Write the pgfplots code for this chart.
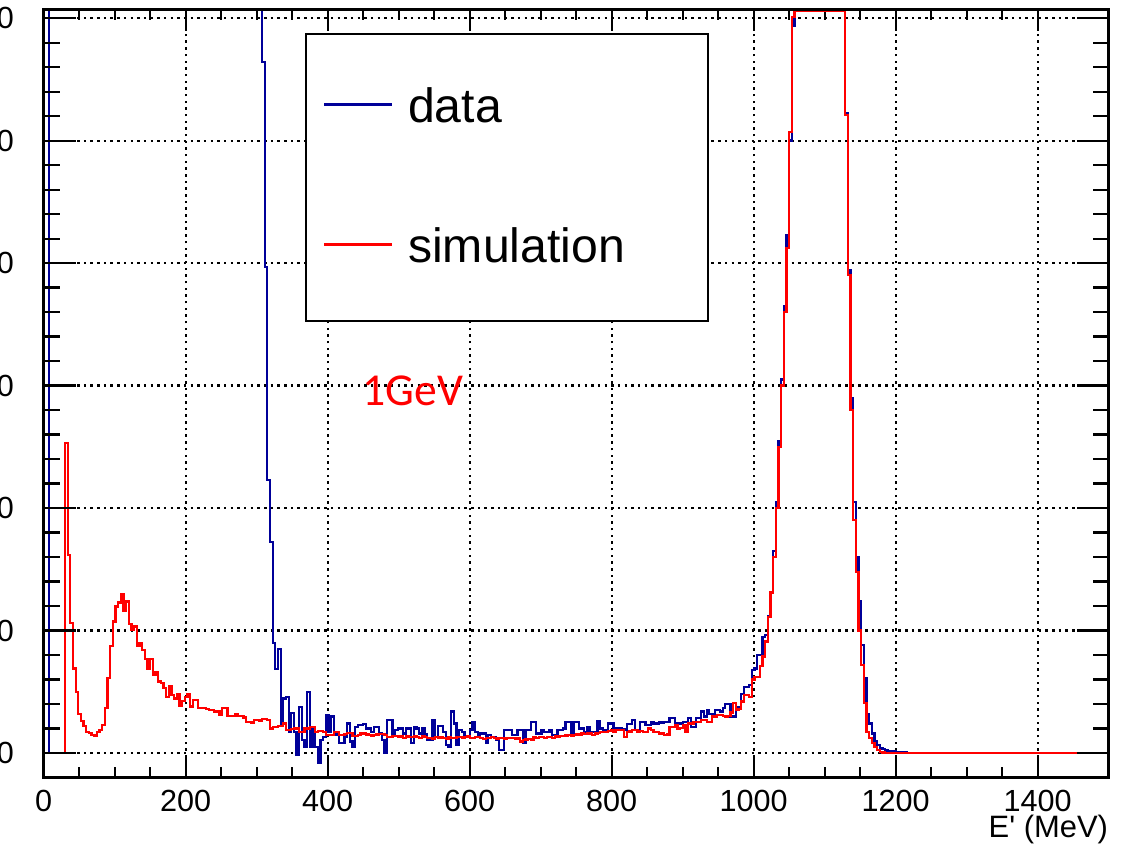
\documentclass[border=0pt]{standalone}
\usepackage{pgfplots}
\usepackage{pgfplotstable}
\pgfplotsset{compat=1.18}
\usepackage{fontspec}
\setmainfont{Liberation Sans}
\newfontfamily\arial{Liberation Sans}
\newfontfamily\carlito{Carlito}
\definecolor{dblue}{RGB}{0,0,153}

\begin{document}
\pgfplotstableread{
x y
0 0
7.5 2000
307.5 564
311.25 397
315 223
318.75 172
322.5 89.6
326.25 68.6
330 85
333.75 24.2
337.5 44.6
341.25 46
345 17.4
348.75 32.4
352.5 17.4
356.25 -1.6
360 37.3
363.75 10.6
367.5 5.2
371.25 50
375 5.2
378.75 21.5
382.5 5.2
386.25 -8.4
390 10.6
393.75 13.3
397.5 31
401.25 17.4
405 29.7
408.75 14.7
412.5 16
416.25 7.9
420 7.9
423.75 13.3
427.5 24.2
431.25 9.3
435 5.2
438.75 21.5
442.5 22.9
446.25 22.9
450 23.7
453.75 20
457.5 20
461.25 17.4
465 21.5
468.75 21.5
472.5 16.6
476.25 10.6
480 0
483.75 27
487.5 27
491.25 16
495 18.8
498.75 20
502.5 20
506.25 16
510 20
513.75 20
517.5 7.9
521.25 21.5
525 20
528.75 16
532.5 20.4
536.25 15.5
540 10.6
543.75 10.6
547.5 27
551.25 13.3
555 22
558.75 22
562.5 17.4
566.25 6.5
570 5.2
573.75 33.8
577.5 24.2
581.25 6.5
585 18.8
588.75 17.4
592.5 13.3
596.25 13.3
600 18.8
603.75 25.6
607.5 17.4
611.25 13.3
615 16
618.75 16
622.5 7.9
626.25 14.7
630 13.3
633.75 13.3
637.5 10.6
641.25 2.4
645 2.4
648.75 18.8
652.5 18.8
656.25 18.8
660 14.7
663.75 14.7
667.5 18.8
671.25 18.8
675 8
678.75 18.8
682.5 18.8
686.25 25.6
690 25.6
693.75 16
697.5 16
701.25 18.8
705 17.4
708.75 17.4
712.5 18.8
716.25 14.7
720 14.7
723.75 18.8
727.5 18.8
731.25 20
735 25.6
738.75 25.6
742.5 16
746.25 25.6
750 25.6
753.75 20
757.5 20
761.25 17.4
765 21.5
768.75 17.4
772.5 17.4
776.25 17.4
780 26.4
783.75 20
787.5 18.8
791.25 18.8
795 24.2
798.75 24.2
802.5 18.8
806.25 20
810 20
813.75 18.8
817.5 19.3
821.25 23.7
825 23.7
828.75 27
832.5 18.8
836.25 18.8
840 25.6
843.75 25.6
847.5 23
851.25 23
855 24.8
858.75 24.2
862.5 24.2
866.25 24.8
870 24.8
873.75 25.6
877.5 25.6
881.25 28.3
885 28.3
888.75 23
892.5 24.2
896.25 24.2
900 25.6
903.75 25.6
907.5 28.3
911.25 21.5
915 21.5
918.75 28.3
922.5 28.3
926.25 33.8
930 29.7
933.75 35
937.5 32
941.25 32
945 35
948.75 35
952.5 33.8
956.25 36.5
960 40
963.75 40
967.5 29.7
971.25 29.7
975 37.8
978.75 37.8
982.5 48
986.25 54
990 54
993.75 55.5
997.5 67.8
1001.25 69
1005 80
1008.75 80
1012.5 95
1016.25 96.4
1020 112
1023.75 131
1027.5 165
1031.25 205
1035 255
1038.75 305
1042.5 365
1046.25 423
1050 500
1053.75 594
1057.5 606
1128.75 522
1132.5 394
1136.25 290
1140 205
1143.75 160
1147.5 124
1151.25 88
1155 61
1158.75 32
1162.5 24
1166.25 16
1170 10
1173.75 6.5
1177.5 4
1181.25 3
1185 2
1188.75 1.5
1200 0.8
1215 0.3
1520 0.3
}\datatable
\pgfplotstableread{
x y
0 0
30 252.9
33.75 161.7
37.5 106.4
41.25 69.1
45 50.1
48.75 31.6
52.5 26.4
56.25 22.0
60 17.4
63.75 16.1
67.5 14.7
71.25 14.2
75 16.9
78.75 18.5
82.5 22.9
86.25 36.5
90 61.0
93.75 87.4
97.5 107.3
101.25 119.5
105 122.8
108.75 129.9
112.5 116.2
116.25 123.6
120 105.3
123.75 100.4
127.5 103.2
131.25 87.4
135 90.1
138.75 84.1
142.5 76.5
146.25 68.3
150 76.5
153.75 63.7
157.5 66.4
161.25 58.3
165 56.9
168.75 52.8
172.5 46.0
176.25 54.2
180 47.4
183.75 44.6
187.5 48.2
191.25 38.4
195 42.7
198.75 46
202.5 48
206.25 38
210 43
213.75 43
217.5 37
221.25 36.5
225 36.5
228.75 36
232.5 35
236.25 35
240 34
243.75 34
247.5 31
251.25 37
255 37
258.75 30
262.5 30
266.25 30
270 31.6
273.75 30
277.5 30
281.25 29
285 25.6
288.75 25.6
292.5 25
296.25 27
300 27
303.75 26
307.5 28
311.25 28
315 27
318.75 20
322.5 21.5
326.25 21.5
330 22
333.75 22
337.5 24
341.25 19
345 19
348.75 19.5
352.5 20
356.25 20
360 17.4
363.75 17.4
367.5 20
371.25 20
375 21
378.75 21
382.5 17.4
386.25 18
390 18
393.75 17
397.5 14.7
401.25 14.7
405 14.7
408.75 17.4
412.5 17.4
416.25 14.7
420 14.7
423.75 15.5
427.5 16.6
431.25 16.6
435 14
438.75 14
442.5 14.5
446.25 16
450 16
453.75 15
457.5 14.7
461.25 14.2
465 14.7
468.75 15.2
472.5 15.5
476.25 15.5
480 14.5
483.75 12.8
487.5 12.8
491.25 14
495 14
498.75 13
502.5 13.5
506.25 12.5
510 13.8
513.75 12.8
517.5 13.3
521.25 14
525 13
528.75 12.2
532.5 13.5
536.25 12.8
540 12
543.75 12.5
547.5 11.8
551.25 12.8
555 12
558.75 13
562.5 12.2
566.25 11.5
570 13
573.75 12.5
577.5 12
581.25 12.8
585 13.3
588.75 12.2
592.5 13
596.25 13.5
600 12.5
603.75 12
607.5 12.8
611.25 13.3
615 12
618.75 11.5
622.5 12.5
626.25 12.2
630 13
633.75 12.5
637.5 11.8
641.25 12
645 12.5
648.75 11.8
652.5 12
656.25 12.5
660 12
663.75 11.5
667.5 12.3
671.25 9.3
675 10.5
678.75 11
682.5 11.5
686.25 11
690 12.8
693.75 12.2
697.5 13
701.25 12.8
705 12.3
708.75 13
712.5 12.8
716.25 12.5
720 13.9
723.75 13.5
727.5 14
731.25 13.9
735 14.2
738.75 14.7
742.5 14.3
746.25 14.7
750 15
753.75 14.7
757.5 16
761.25 15.5
765 16
768.75 16.5
772.5 14.7
776.25 16
780 16.2
783.75 17.4
787.5 17
791.25 17.4
795 17.8
798.75 18.8
802.5 17.4
806.25 18.8
810 18.5
813.75 19
817.5 13.3
821.25 17.4
825 17.6
828.75 18.8
832.5 18.5
836.25 17.4
840 17.8
843.75 17.4
847.5 17.2
851.25 20
855 18.5
858.75 17
862.5 17.4
866.25 16
870 16.2
873.75 14.7
877.5 15
881.25 21.5
885 21
888.75 22.9
892.5 20
896.25 20.5
900 22.9
903.75 17.4
907.5 24.2
911.25 24
915 25.6
918.75 25.2
922.5 25.6
926.25 27
930 27
933.75 25.6
937.5 25.6
941.25 29.7
945 29.7
948.75 31
952.5 31
956.25 30
960 29.7
963.75 30
967.5 33
971.25 40.6
975 35
978.75 36
982.5 42
986.25 47.4
990 47.4
993.75 46
997.5 60
1001.25 62
1005 62
1008.75 71
1012.5 78.7
1016.25 91
1020 111
1023.75 131
1027.5 160
1031.25 200
1035 250
1038.75 300
1042.5 360
1046.25 412
1050 507
1053.75 601
1057.5 606
1128.75 521
1132.5 390
1136.25 280
1140 190
1143.75 148
1147.5 100
1151.25 72
1155 41
1158.75 17
1162.5 12
1166.25 8
1170 5
1173.75 2.5
1177.5 1
1181.25 0.5
1185 0.3
1520 0.3
}\simtable
\begin{tikzpicture}
\useasboundingbox (-0.437,-0.675) rectangle (10.913,7.775);
\clip (-0.437,-0.675) rectangle (10.913,7.775);
\begin{axis}[
  at={(0,0)}, anchor=south west,
  scale only axis, width=10.65cm, height=7.68cm,
  xmin=0, xmax=1500, ymin=-20, ymax=607,
  xtick={0,200,...,1400}, minor x tick num=3,
  ytick={0,100,...,600}, minor y tick num=4,
  tick align=inside, xtick pos=both, ytick pos=both,
  major tick length=0.21cm, minor tick length=0.105cm,
  grid=major,
  major grid style={black, line width=0.6pt, dash pattern=on 0.7pt off 1.2pt},
  axis line style={line width=0.85pt},
  tick style={black, line width=0.6pt},
  /pgf/number format/assume math mode=true,
  /pgf/number format/1000 sep={},
  ticklabel style={font=\fontsize{8.7}{10}\selectfont},
  xticklabel style={yshift=0cm},
  yticklabel style={anchor=east, inner sep=0pt, xshift=-0.29cm},
  xlabel={\arial E' (MeV)},
  xlabel style={at={(rel axis cs:1,0)}, anchor=base east, yshift=-0.6cm, inner sep=0pt, font=\fontsize{8.8}{10}\selectfont},
  legend style={at={(rel axis cs:0.2454,0.9694)}, anchor=north west, draw=black, line width=0.5pt, fill=white,
    font=\fontsize{13.7}{16}\selectfont, inner xsep=0.17cm, inner ysep=0.035cm, row sep=0pt, column sep=0.15cm,
    nodes={inner sep=0pt, minimum height=1.4cm}},
  legend cell align=left,
  legend image code/.code={\draw[#1, line width=0.65pt] (0cm,0.03cm) -- (0.68cm,0.03cm);},
]
\addplot[const plot, dblue, line width=0.65pt, no markers] table[x=x, y=y] {\datatable};
\addlegendentry{data}
\addplot[const plot, red, line width=0.65pt, no markers] table[x=x, y=y] {\simtable};
\addlegendentry{simulation\hspace*{0.66cm}}
\node[anchor=base west, text=red, inner sep=0pt, font=\carlito\fontsize{13}{15}\selectfont] at (axis cs:448,284) {1GeV};
\end{axis}
\begin{axis}[
  at={(0,0)}, anchor=south west,
  scale only axis, width=10.65cm, height=7.68cm,
  xmin=0, xmax=1500, ymin=-20, ymax=607,
  xtick=\empty, ytick={0,100,...,600}, minor y tick num=4,
  yticklabel=\empty,
  tick align=inside, ytick pos=both,
  major tick length=0.32cm, minor tick length=0.16cm,
  axis line style={line width=0.85pt},
  tick style={black, line width=0.6pt},
]
\end{axis}
\end{tikzpicture}
\end{document}
